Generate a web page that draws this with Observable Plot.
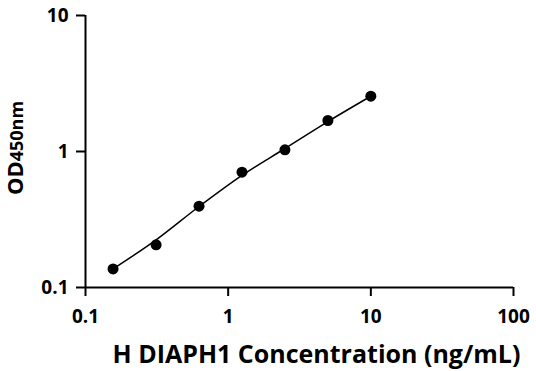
<!DOCTYPE html>
<html>
<head>
<meta charset="utf-8">
<script src="https://cdn.jsdelivr.net/npm/d3@7"></script>
<script src="https://cdn.jsdelivr.net/npm/@observablehq/plot@0.6"></script>
<style>
  html, body { margin: 0; padding: 0; background: #fff; }
</style>
</head>
<body>
<div id="chart"></div>
<script>
const concentration = [0.156, 0.3125, 0.625, 1.25, 2.5, 5, 10];
const od450 = [0.137, 0.206, 0.396, 0.705, 1.029, 1.69, 2.55];
const fitOd = [0.137, 0.224, 0.394, 0.668, 1.052, 1.66, 2.55];
const xTicks = [0.1, 1, 10, 100];
const yTicks = [0.1, 1, 10];
const xLabel = "H DIAPH1 Concentration (ng/mL)";
const yLabelMain = "OD";
const yLabelSub = "450nm";

const points = concentration.map((c, i) => ({c, od: od450[i]}));
const fit = concentration.map((c, i) => ({c, od: fitOd[i]}));

const font = "'Open Sans', 'DejaVu Sans', sans-serif";

const chart = Plot.plot({
  width: 536,
  height: 371,
  marginLeft: 85,
  marginRight: 23,
  marginTop: 15,
  marginBottom: 84,
  style: {fontFamily: font, fontWeight: "bold", background: "#fff", color: "#000"},
  x: {type: "log", domain: [0.1, 100]},
  y: {type: "log", domain: [0.1, 10]},
  marks: [
    Plot.axisX({ticks: xTicks, tickFormat: d => String(d), tickSize: 9, tickPadding: 13, strokeWidth: 2, fontSize: 19, label: null}),
    Plot.axisY({ticks: yTicks, tickFormat: d => String(d), tickSize: 9, tickPadding: 8, strokeWidth: 2, fontSize: 19, label: null}),
    Plot.ruleX([0.1], {strokeWidth: 2, stroke: "#000"}),
    Plot.ruleY([0.1], {strokeWidth: 2, stroke: "#000"}),
    Plot.line(fit, {x: "c", y: "od", stroke: "#000", strokeWidth: 1.5, curve: "monotone-x"}),
    Plot.dot(points, {x: "c", y: "od", r: 5.5, fill: "#000"}),
    Plot.text([xLabel], {frameAnchor: "bottom", lineAnchor: "bottom", dy: 75, dx: 17, fontSize: 25, fontWeight: "bold", fill: "#000"})
  ]
});

const svg = d3.select(chart);
const yl = svg.append("text")
  .attr("transform", "translate(23,148) rotate(-90)")
  .attr("text-anchor", "middle")
  .attr("font-family", font)
  .attr("font-weight", "bold")
  .attr("fill", "#000");
yl.append("tspan").attr("font-size", 22).text(yLabelMain);
yl.append("tspan").attr("font-size", 18).text(yLabelSub);

document.getElementById("chart").appendChild(chart);
</script>
</body>
</html>
